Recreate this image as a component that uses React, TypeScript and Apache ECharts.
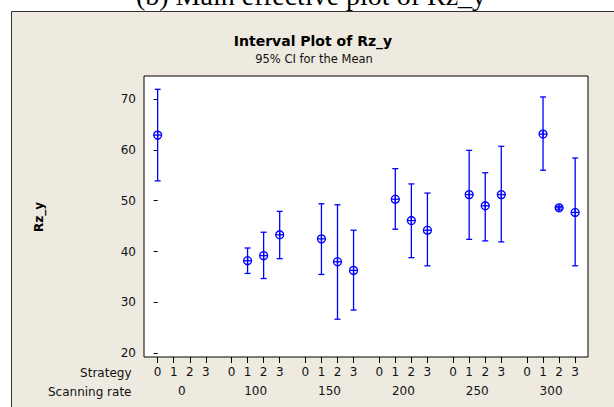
import React, { useEffect, useRef } from "react";
import * as echarts from "echarts";

// Interval plot of Rz_y: 95% CI for the mean, by scanning rate and strategy
const scanningRates = [0, 100, 150, 200, 250, 300];
const strategies = [0, 1, 2, 3];
const yTicks = [20, 30, 40, 50, 60, 70];

// One entry per plotted interval
const pointRate = [0, 100, 100, 100, 150, 150, 150, 200, 200, 200, 250, 250, 250, 300, 300, 300];
const pointStrategy = [0, 1, 2, 3, 1, 2, 3, 1, 2, 3, 1, 2, 3, 1, 2, 3];
const means = [62.9, 38.2, 39.2, 43.3, 42.5, 38.0, 36.3, 50.3, 46.1, 44.2, 51.2, 49.0, 51.2, 63.1, 48.6, 47.7];
const lowerCI = [53.9, 35.7, 34.7, 38.6, 35.5, 26.7, 28.5, 44.4, 38.8, 37.2, 42.4, 42.1, 41.9, 56.0, 48.2, 37.2];
const upperCI = [71.9, 40.7, 43.8, 47.9, 49.4, 49.2, 44.2, 56.3, 53.3, 51.5, 59.9, 55.5, 60.7, 70.4, 48.9, 58.4];

// Horizontal layout: groups of strategy slots separated by a gap
const GROUP_STRIDE = 4.6;
const xOf = (rateIdx: number, strategy: number) => rateIdx * GROUP_STRIDE + strategy;

const tickPositions: number[] = [];
const tickStrategies: number[] = [];
scanningRates.forEach((_, g) => {
  strategies.forEach((s) => {
    tickPositions.push(xOf(g, s));
    tickStrategies.push(s);
  });
});
const groupCenters = scanningRates.map((_, g) => xOf(g, 1.5));

const BLUE = "#0000ff";
const FONT = "DejaVu Sans";
const TEXT = "#111";

export default function App() {
  const ref = useRef<HTMLDivElement>(null);

  useEffect(() => {
    if (!ref.current) return;
    const chart = echarts.init(ref.current, undefined, { renderer: "svg" });

    const data = means.map((m, i) => [
      xOf(scanningRates.indexOf(pointRate[i]), pointStrategy[i]),
      m,
      lowerCI[i],
      upperCI[i],
    ]);

    const findIndex = (arr: number[], v: number) =>
      arr.findIndex((p) => Math.abs(p - v) < 1e-6);

    chart.setOption({
      animation: false,
      backgroundColor: "#ffffff",
      graphic: [
        {
          type: "rect",
          z: -100,
          shape: { x: 11.5, y: 11.5, width: 620, height: 420 },
          style: { fill: "#EEEAE0", stroke: "#333", lineWidth: 1 },
        },
        {
          type: "text",
          x: 311,
          y: -4.5,
          style: {
            text: "(b) Main effective plot of Rz_y",
            fontFamily: "Liberation Serif",
            fontSize: 28,
            fill: "#000",
            align: "center",
            verticalAlign: "middle",
          },
        },
        {
          type: "text",
          x: 313,
          y: 41,
          style: {
            text: "Interval Plot of Rz_y",
            fontFamily: FONT,
            fontWeight: "bold",
            fontSize: 14,
            fill: "#000",
            align: "center",
            verticalAlign: "middle",
          },
        },
        {
          type: "text",
          x: 314,
          y: 59,
          style: {
            text: "95% CI for the Mean",
            fontFamily: FONT,
            fontSize: 11.5,
            fill: TEXT,
            align: "center",
            verticalAlign: "middle",
          },
        },
        {
          type: "text",
          x: 131.5,
          y: 372.5,
          style: {
            text: "Strategy",
            fontFamily: FONT,
            fontSize: 12,
            fill: TEXT,
            align: "right",
            verticalAlign: "middle",
          },
        },
        {
          type: "text",
          x: 131.5,
          y: 391.5,
          style: {
            text: "Scanning rate",
            fontFamily: FONT,
            fontSize: 12,
            fill: TEXT,
            align: "right",
            verticalAlign: "middle",
          },
        },
        {
          type: "text",
          x: 38.5,
          y: 217,
          rotation: Math.PI / 2,
          style: {
            text: "Rz_y",
            fontFamily: FONT,
            fontWeight: "bold",
            fontSize: 12,
            fill: "#000",
            align: "center",
            verticalAlign: "middle",
          },
        },
      ],
      grid: {
        left: 144,
        right: 26,
        top: 76,
        bottom: 50,
        show: true,
        backgroundColor: "#ffffff",
        borderColor: "#000",
        borderWidth: 1,
      },
      xAxis: [
        {
          type: "value",
          min: -0.85,
          max: 26.8,
          position: "bottom",
          axisLine: { show: false },
          splitLine: { show: false },
          axisTick: {
            show: true,
            length: 6,
            lineStyle: { color: "#000" },
            customValues: tickPositions,
          },
          axisLabel: {
            customValues: tickPositions,
            margin: 9,
            fontFamily: FONT,
            fontSize: 12,
            color: TEXT,
            formatter: (v: number) => {
              const i = findIndex(tickPositions, v);
              return i >= 0 ? String(tickStrategies[i]) : "";
            },
          },
        },
        {
          type: "value",
          min: -0.85,
          max: 26.8,
          position: "bottom",
          axisLine: { show: false },
          splitLine: { show: false },
          axisTick: { show: false },
          axisLabel: {
            customValues: groupCenters,
            margin: 28,
            fontFamily: FONT,
            fontSize: 12,
            color: TEXT,
            formatter: (v: number) => {
              const i = findIndex(groupCenters, v);
              return i >= 0 ? String(scanningRates[i]) : "";
            },
          },
        },
      ],
      yAxis: {
        type: "value",
        min: 19.27,
        max: 74.52,
        axisLine: { show: false },
        splitLine: { show: false },
        axisTick: {
          show: true,
          length: 4,
          lineStyle: { color: "#000" },
          customValues: yTicks,
        },
        axisLabel: {
          customValues: yTicks,
          margin: 8,
          fontFamily: FONT,
          fontSize: 12,
          color: TEXT,
        },
      },
      series: [
        {
          type: "custom",
          xAxisIndex: 0,
          yAxisIndex: 0,
          data,
          renderItem: (_params: any, api: any) => {
            const x = api.value(0);
            const pm = api.coord([x, api.value(1)]);
            const pl = api.coord([x, api.value(2)]);
            const ph = api.coord([x, api.value(3)]);
            const cx = pm[0];
            const cy = pm[1];
            const style = { stroke: BLUE, lineWidth: 1.3, fill: "none" };
            const cap = 3;
            const r = 4;
            return {
              type: "group",
              children: [
                { type: "line", shape: { x1: cx, y1: ph[1], x2: cx, y2: pl[1] }, style },
                { type: "line", shape: { x1: cx - cap, y1: ph[1], x2: cx + cap, y2: ph[1] }, style },
                { type: "line", shape: { x1: cx - cap, y1: pl[1], x2: cx + cap, y2: pl[1] }, style },
                { type: "circle", shape: { cx, cy, r }, style },
                { type: "line", shape: { x1: cx - r, y1: cy, x2: cx + r, y2: cy }, style },
                { type: "line", shape: { x1: cx, y1: cy - r, x2: cx, y2: cy + r }, style },
              ],
            };
          },
        },
      ],
    });

    return () => chart.dispose();
  }, []);

  return (
    <div
      ref={ref}
      style={{ position: "absolute", left: 0, top: 0, width: 614, height: 407 }}
    />
  );
}
